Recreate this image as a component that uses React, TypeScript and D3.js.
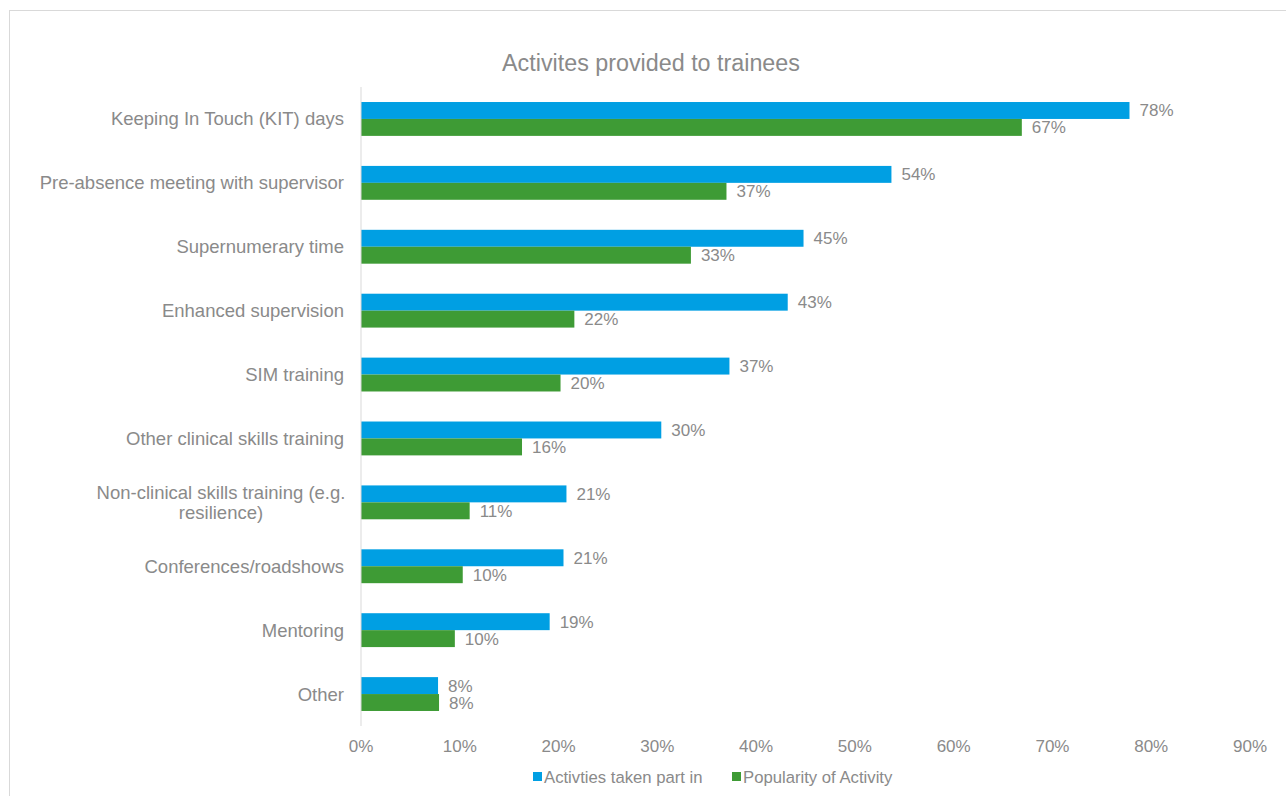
import React from "react";
import * as d3 from "d3";

const categories = [
  ["Keeping In Touch (KIT) days"],
  ["Pre-absence meeting with supervisor"],
  ["Supernumerary time"],
  ["Enhanced supervision"],
  ["SIM training"],
  ["Other clinical skills training"],
  ["Non-clinical skills training (e.g.", "resilience)"],
  ["Conferences/roadshows"],
  ["Mentoring"],
  ["Other"],
];
const takenPart = [77.8, 53.7, 44.8, 43.2, 37.3, 30.4, 20.8, 20.5, 19.1, 7.8];
const popularity = [66.9, 37.0, 33.4, 21.6, 20.2, 16.3, 11.0, 10.3, 9.5, 7.9];
const xTicks = [0, 10, 20, 30, 40, 50, 60, 70, 80, 90];
const seriesNames = ["Activties taken part in", "Popularity of Activity"];
const colors = ["#009fe3", "#3e9b35"];

const W = 1286;
const H = 796;
const left = 361;
const right = 1250;
const top = 87;
const bottom = 726;
const textColor = "#8a8a8a";
const font = "'Liberation Sans', Arial, sans-serif";

export default function App() {
  const x = d3.scaleLinear().domain([0, 90]).range([left, right]);
  const y = d3
    .scaleBand<number>()
    .domain(d3.range(categories.length))
    .range([top, bottom])
    .paddingInner(0.47)
    .paddingOuter(0.235);
  const bw = y.bandwidth() / 2;
  return (
    <svg
      width={W}
      height={H}
      style={{ position: "absolute", left: 0, top: 0, fontFamily: font }}
    >
      <rect x={0} y={0} width={W} height={H} fill="#fff" />
      <rect x={9.5} y={10.5} width={W} height={H} fill="#fff" stroke="#d9d9d9" strokeWidth={1} />
      <text x={651} y={71} textAnchor="middle" fontSize={23.3} fill={textColor}>
        Activites provided to trainees
      </text>
      {categories.map((lines, i) => {
        const cy = (y(i) as number) + y.bandwidth() / 2;
        return (
          <g key={i}>
            <rect x={x(0)} y={cy - bw} width={x(takenPart[i]) - x(0)} height={bw} fill={colors[0]} />
            <rect x={x(0)} y={cy} width={x(popularity[i]) - x(0)} height={bw} fill={colors[1]} />
            <text x={x(takenPart[i]) + 10} y={cy - bw / 2 + 6} fontSize={17} fill={textColor}>
              {d3.format(".0f")(takenPart[i]) + "%"}
            </text>
            <text x={x(popularity[i]) + 10} y={cy + bw / 2 + 6} fontSize={17} fill={textColor}>
              {d3.format(".0f")(popularity[i]) + "%"}
            </text>
            {lines.length === 1 ? (
              <text x={344} y={cy + 6.5} textAnchor="end" fontSize={18.5} fill={textColor}>
                {lines[0]}
              </text>
            ) : (
              lines.map((l, j) => (
                <text
                  key={j}
                  x={221}
                  y={cy + (j - 0.5) * 19.5 + 6.5}
                  textAnchor="middle"
                  fontSize={18.5}
                  fill={textColor}
                >
                  {l}
                </text>
              ))
            )}
          </g>
        );
      })}
      <line x1={x(0)} x2={x(0)} y1={top} y2={bottom} stroke="#d9d9d9" strokeWidth={1} />
      {xTicks.map((t) => (
        <text key={t} x={x(t)} y={752} textAnchor="middle" fontSize={17} fill={textColor}>
          {t + "%"}
        </text>
      ))}
      {seriesNames.map((s, i) => {
        const lx = i === 0 ? 533 : 732;
        return (
          <g key={s}>
            <rect x={lx} y={772} width={9} height={9} fill={colors[i]} />
            <text x={lx + 11} y={782.5} fontSize={16.7} fill={textColor}>
              {s}
            </text>
          </g>
        );
      })}
    </svg>
  );
}
